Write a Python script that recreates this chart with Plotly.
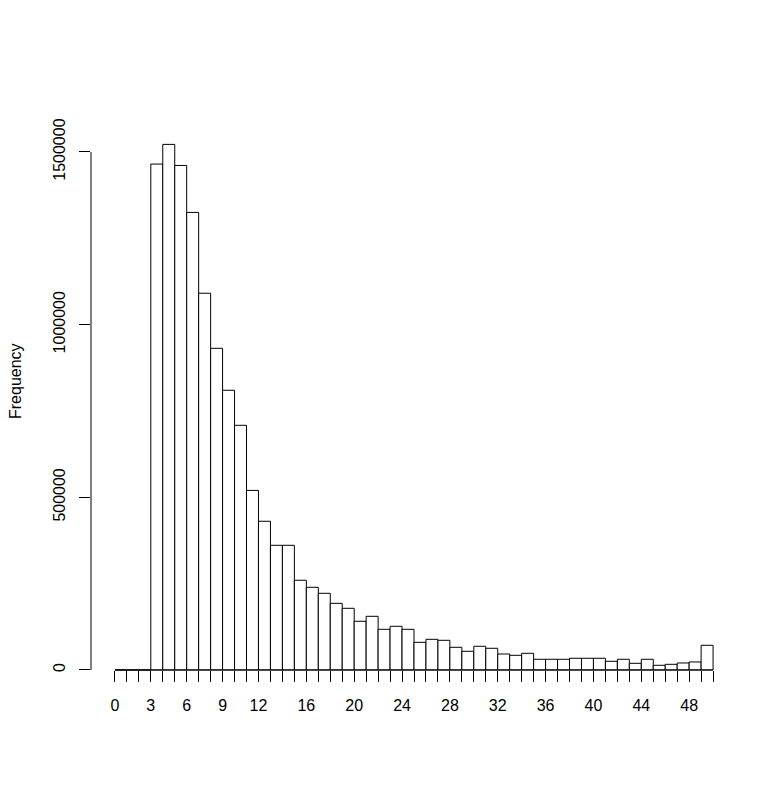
import plotly.graph_objects as go

# histogram bins of width 1 from 0 to 50
breaks = list(range(51))
counts = [0, 0, 0, 1465000, 1522000, 1461000, 1325000, 1091000, 931500, 810000,
          708500, 520000, 430600, 361000, 361000, 259800, 239400, 222000, 193000, 178600,
          141000, 155400, 117800, 126500, 117800, 80100, 88800, 85900, 65700, 54100,
          68600, 62800, 46300, 42500, 48300, 31000, 31000, 31000, 33900, 33900,
          33900, 25100, 31000, 19300, 31000, 13500, 16400, 20300, 23200, 71500]
x_labels = [0, 3, 6, 9, 12, 16, 20, 24, 28, 32, 36, 40, 44, 48]
y_ticks = [0, 500000, 1000000, 1500000]

mids = [(a + b) / 2 for a, b in zip(breaks[:-1], breaks[1:])]
ticktext = [str(b) if b in x_labels else "" for b in breaks]

y_lo, y_hi = -60880, 1734500
zero_pos = (0 - y_lo) / (y_hi - y_lo)
top_pos = (y_ticks[-1] - y_lo) / (y_hi - y_lo)

fig = go.Figure()
fig.add_trace(go.Bar(x=mids, y=counts, width=1,
                     marker=dict(color="white", line=dict(color="black", width=1))))
# baseline under the bars (covers the empty bins too)
fig.add_trace(go.Scatter(x=[breaks[0], breaks[-1]], y=[0, 0], mode="lines",
                         line=dict(color="black", width=1), hoverinfo="skip"))

# page body has an 8px margin, so the figure is a bit smaller than the window
fig.update_layout(
    width=775, height=777,
    margin=dict(l=83, r=46, t=63, b=94),
    paper_bgcolor="white", plot_bgcolor="white",
    showlegend=False,
    font=dict(family="Liberation Sans, Arial, sans-serif", size=16, color="black"),
    xaxis=dict(range=[-2, 52], anchor="free", position=zero_pos,
               tickvals=breaks, ticktext=ticktext, ticks="outside", ticklen=11,
               tickcolor="black", tickwidth=1, showgrid=False, zeroline=False,
               showline=False, ticklabelstandoff=10),
    yaxis=dict(range=[y_lo, y_hi], tickvals=y_ticks, ticktext=[str(v) for v in y_ticks],
               ticks="outside", ticklen=11,
               tickcolor="black", tickwidth=1, tickangle=-90, showgrid=False,
               zeroline=False, showline=False, ticklabelstandoff=8),
    shapes=[dict(type="line", xref="paper", yref="paper", x0=0, x1=0,
                 y0=zero_pos, y1=top_pos, line=dict(color="black", width=1))],
    annotations=[dict(text="Frequency", textangle=-90, xref="paper", yref="paper",
                      x=0, y=0.5, xanchor="center", yanchor="middle", xshift=-76,
                      showarrow=False, font=dict(size=16))],
)

fig.write_html("out.html")
